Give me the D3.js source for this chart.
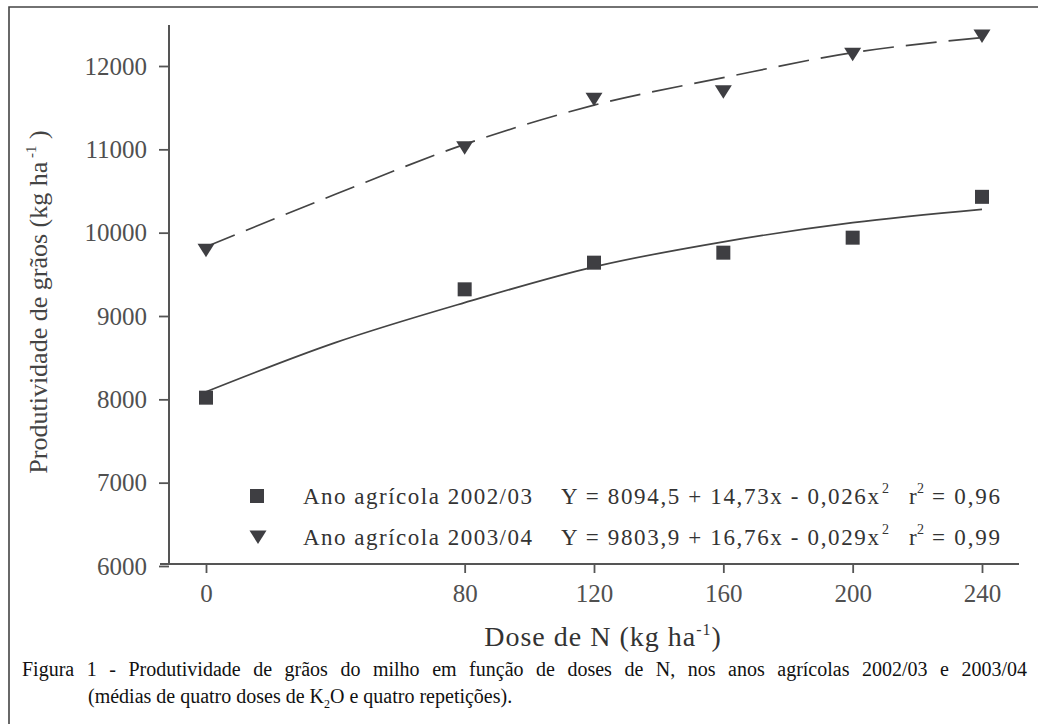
<!DOCTYPE html>
<html>
<head>
<meta charset="utf-8">
<script src="https://cdn.jsdelivr.net/npm/d3@7"></script>
<style>
  body { margin: 0; background: #fff; }
  svg text { font-family: "Liberation Serif", "DejaVu Serif", serif; }
</style>
</head>
<body>
<div id="chart"></div>
<script>
// dados
var doses = [0, 80, 120, 160, 200, 240];
var prod0203 = [8020, 9320, 9640, 9760, 9940, 10430];
var prod0304 = [9790, 11020, 11600, 11690, 12140, 12360];

// curvas ajustadas
var fitDoses = [0, 40, 80, 120, 160, 200, 240];
var fit0203 = [8090, 8680, 9160, 9590, 9890, 10120, 10280];
var fit0304 = [9830, 10460, 11060, 11530, 11860, 12160, 12340];

var yTicks = [6000, 7000, 8000, 9000, 10000, 11000, 12000];
var xTicks = [0, 80, 120, 160, 200, 240];

var fullWidth = 1038, fullHeight = 724;
var ink = "#3e3e42";

var svg = d3.select("#chart")
            .append("svg")
            .attr("width", fullWidth)
            .attr("height", fullHeight);

svg.append("rect").attr("width", fullWidth).attr("height", fullHeight).attr("fill", "#fff");

// moldura
svg.append("path")
   .attr("d", "M9,724V7H1038")
   .attr("fill", "none")
   .attr("stroke", "#444")
   .attr("stroke-width", 1.6);

var xScale = d3.scaleLinear().domain([0, 240]).range([206, 982]);
var yScale = d3.scaleLinear().domain([6000, 12000]).range([566, 66]);

// eixo y
var yAxis = d3.axisLeft(yScale).tickValues(yTicks).tickSize(10).tickPadding(12).tickFormat(d3.format("d"));
var gy = svg.append("g").attr("transform", "translate(169,0)").call(yAxis);
gy.select(".domain").remove();
gy.append("line").attr("x1", 0).attr("x2", 0).attr("y1", 25).attr("y2", 564)
  .attr("stroke", "#555").attr("stroke-width", 2);
gy.selectAll(".tick line").attr("stroke", "#555").attr("stroke-width", 1.8);
gy.selectAll(".tick text").attr("fill", "#505050").attr("font-size", 25)
  .attr("font-family", "Liberation Serif");

// eixo x
var xAxis = d3.axisBottom(xScale).tickValues(xTicks).tickSize(9).tickPadding(11);
var gx = svg.append("g").attr("transform", "translate(0,564)").call(xAxis);
gx.select(".domain").remove();
gx.append("line").attr("x1", 160).attr("x2", 1019).attr("y1", 0).attr("y2", 0)
  .attr("stroke", "#555").attr("stroke-width", 2);
gx.selectAll(".tick line").attr("stroke", "#555").attr("stroke-width", 1.8);
gx.selectAll(".tick text").attr("fill", "#505050").attr("font-size", 25)
  .attr("font-family", "Liberation Serif");

// curvas
var line = d3.line()
             .x(function(d) { return xScale(d[0]); })
             .y(function(d) { return yScale(d[1]); })
             .curve(d3.curveMonotoneX);

svg.append("path")
   .datum(d3.zip(fitDoses, fit0203))
   .attr("d", line)
   .attr("fill", "none")
   .attr("stroke", "#444")
   .attr("stroke-width", 1.7);

svg.append("path")
   .datum(d3.zip(fitDoses, fit0304))
   .attr("d", line)
   .attr("fill", "none")
   .attr("stroke", "#444")
   .attr("stroke-width", 1.7)
   .attr("stroke-dasharray", "31,12");

// marcadores
var tri = "M-8.5,-6.5L8.5,-6.5L0,7Z";

svg.selectAll(".sq")
   .data(d3.zip(doses, prod0203))
   .enter().append("rect")
   .attr("class", "sq")
   .attr("x", function(d) { return xScale(d[0]) - 7; })
   .attr("y", function(d) { return yScale(d[1]) - 7; })
   .attr("width", 14).attr("height", 14)
   .attr("fill", ink);

svg.selectAll(".tri")
   .data(d3.zip(doses, prod0304))
   .enter().append("path")
   .attr("class", "tri")
   .attr("d", tri)
   .attr("transform", function(d) { return "translate(" + xScale(d[0]) + "," + yScale(d[1]) + ")"; })
   .attr("fill", ink);

// legenda
var legRows = [
  {y: 496, label: "Ano agrícola 2002/03", eq: "Y = 8094,5 + 14,73x - 0,026x", r2: "= 0,96", mark: "sq"},
  {y: 537, label: "Ano agrícola 2003/04", eq: "Y = 9803,9 + 16,76x - 0,029x", r2: "= 0,99", mark: "tri"}
];
var fs = 23;
legRows.forEach(function(r) {
  if (r.mark == "sq") {
    svg.append("rect").attr("x", 250).attr("y", r.y - 7).attr("width", 14).attr("height", 14).attr("fill", ink);
  } else {
    svg.append("path").attr("d", tri).attr("transform", "translate(258," + r.y + ")").attr("fill", ink);
  }
  var base = r.y + 8;
  svg.append("text").attr("x", 303).attr("y", base).attr("font-size", fs).attr("fill", "#333")
     .attr("textLength", 229).attr("lengthAdjust", "spacing").text(r.label);
  svg.append("text").attr("x", 561).attr("y", base).attr("font-size", fs).attr("fill", "#333")
     .attr("textLength", 318).attr("lengthAdjust", "spacing").text(r.eq);
  svg.append("text").attr("x", 882).attr("y", base - 11).attr("font-size", 14).attr("fill", "#333").text("2");
  svg.append("text").attr("x", 909).attr("y", base).attr("font-size", fs).attr("fill", "#333").text("r");
  svg.append("text").attr("x", 917).attr("y", base - 11).attr("font-size", 14).attr("fill", "#333").text("2");
  svg.append("text").attr("x", 932).attr("y", base).attr("font-size", fs).attr("fill", "#333")
     .attr("textLength", 68).attr("lengthAdjust", "spacing").text(r.r2);
});

// titulo eixo y
var yt = svg.append("text")
            .attr("transform", "translate(47,302) rotate(-90)")
            .attr("text-anchor", "middle")
            .attr("font-size", 26)
            .attr("fill", "#444");
yt.append("tspan").text("Produtividade de grãos (kg ha");
yt.append("tspan").attr("dy", -11).attr("font-size", 15).text(" -1");
yt.append("tspan").attr("dy", 11).text(" )");

// titulo eixo x
var xt = svg.append("text")
            .attr("x", 603).attr("y", 646)
            .attr("text-anchor", "middle")
            .attr("font-size", 28)
            .attr("letter-spacing", 1)
            .attr("fill", "#333");
xt.append("tspan").text("Dose de N (kg ha");
xt.append("tspan").attr("dy", -11).attr("font-size", 16).text("-1");
xt.append("tspan").attr("dy", 11).text(")");

// legenda da figura (1a linha justificada)
var cap1 = svg.append("text").attr("x", 22).attr("y", 676).attr("font-size", 20).attr("fill", "#111")
   .text("Figura 1 - Produtividade de grãos do milho em função de doses de N, nos anos agrícolas 2002/03 e 2003/04");
var nat = cap1.node().getComputedTextLength();
var nSpaces = cap1.text().split(" ").length - 1;
cap1.attr("word-spacing", Math.max(0, (1005 - nat) / nSpaces));

var cap2 = svg.append("text").attr("x", 88).attr("y", 703).attr("font-size", 20).attr("fill", "#111");
cap2.append("tspan").text("(médias de quatro doses de K");
cap2.append("tspan").attr("dy", 5).attr("font-size", 12).text("2");
cap2.append("tspan").attr("dy", -5).text("O e quatro repetições).");
</script>
</body>
</html>
